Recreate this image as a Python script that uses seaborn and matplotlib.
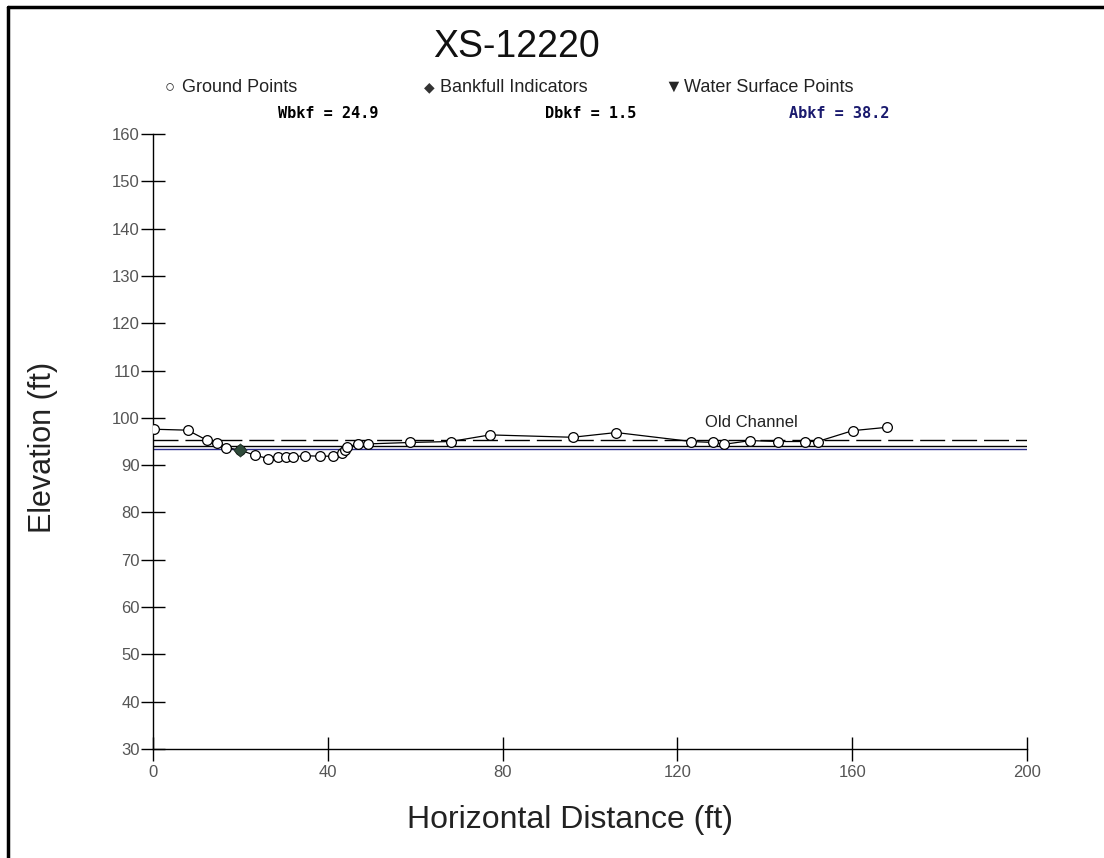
import numpy as np
import pandas as pd
import seaborn as sns
import matplotlib
matplotlib.use('Agg')
from matplotlib import pyplot as plt
from matplotlib.lines import Line2D

# ground survey points (station ft, elevation ft)
station = [0.2, 7.9, 12.3, 14.7, 16.8, 19.9, 23.3, 26.4, 28.7, 30.4, 32.1, 34.8,
           38.2, 41.1, 43.2, 43.9, 44.5, 47.0, 49.3, 58.8, 68.1, 77.1, 96.0,
           106.0, 123.2, 128.2, 130.6, 136.7, 143.1, 149.1, 152.1, 160.1, 167.9]
elevation = [97.6, 97.4, 95.3, 94.6, 93.7, 93.2, 92.1, 91.4, 91.7, 91.8, 91.8, 92.0,
             91.9, 91.9, 92.5, 93.2, 93.9, 94.5, 94.5, 94.8, 95.0, 96.4, 95.9,
             96.9, 95.0, 94.8, 94.4, 95.2, 95.0, 95.0, 95.0, 97.3, 98.0]

# bankfull indicator
bkf_station = [19.9]
bkf_elev = [93.2]

# horizontal reference lines
old_channel_elev = 95.3
water_elev = 94.0
bankfull_elev = 93.5

stats = ['Wbkf = 24.9', 'Dbkf = 1.5', 'Abkf = 38.2']

df = pd.DataFrame({'station': station, 'elevation': elevation})

sns.set_style('white')
plt.rcParams['font.family'] = ['Liberation Sans', 'DejaVu Sans']

fig = plt.figure(figsize=(11.04, 8.58), dpi=100)
ax = fig.add_axes([0.1386, 0.127, 0.7917, 0.7168])

ax.axhline(old_channel_elev, color='black', lw=1.0, dashes=(18, 5), zorder=1)
ax.axhline(water_elev, color='black', lw=1.0, zorder=1)
ax.axhline(bankfull_elev, color='#2b2b8a', lw=1.0, zorder=1)

sns.lineplot(data=df, x='station', y='elevation', estimator=None, sort=False,
             color='black', lw=0.9, marker='o', markersize=7,
             markerfacecolor='white', markeredgecolor='black',
             markeredgewidth=0.9, ax=ax, zorder=3)
sns.scatterplot(x=bkf_station, y=bkf_elev, marker='D', s=45, color='#2e4a3a',
                edgecolor='#1e2e24', ax=ax, zorder=4)

ax.text(137, 97.5, 'Old Channel', fontsize=12, ha='center', va='bottom', color='#222222')

ax.set_xlim(0, 200)
ax.set_ylim(30, 160)
ax.set_xticks(np.arange(0, 201, 40))
ax.set_yticks(np.arange(30, 161, 10))
ax.tick_params(direction='inout', length=17, width=1, colors='black',
               labelcolor='#555555', labelsize=12, left=True, bottom=True)
ax.tick_params(axis='y', pad=1)
ax.tick_params(axis='x', pad=3)
for s in ['top', 'right']:
    ax.spines[s].set_visible(False)
for s in ['left', 'bottom']:
    ax.spines[s].set_color('black')
    ax.spines[s].set_linewidth(1.0)

ax.set_xlabel('Horizontal Distance (ft)', fontsize=23, color='#222222')
ax.set_ylabel('Elevation (ft)', fontsize=22, color='#222222')
ax.xaxis.set_label_coords(0.477, -0.115)
ax.xaxis.label.set_va('center')
ax.yaxis.set_label_coords(-0.126, 0.49)
ax.yaxis.label.set_va('center')

# title and header legend
fig.text(0.468, 0.945, 'XS-12220', fontsize=27, ha='center', va='center', color='#111111')
ly = 0.898
fig.text(0.154, ly, '○', fontsize=12, ha='center', va='center')
fig.text(0.165, ly, 'Ground Points', fontsize=13, ha='left', va='center', color='#222222')
fig.text(0.389, ly, '◆', fontsize=10, ha='center', va='center', color='#333333')
fig.text(0.399, ly, 'Bankfull Indicators', fontsize=13, ha='left', va='center', color='#222222')
fig.text(0.610, ly, '▼', fontsize=13, ha='center', va='center')
fig.text(0.620, ly, 'Water Surface Points', fontsize=13, ha='left', va='center', color='#222222')

sy = 0.868
stat_x = [0.297, 0.535, 0.760]
stat_c = ['black', 'black', '#1a1a6e']
for xx, txt, c in zip(stat_x, stats, stat_c):
    fig.text(xx, sy, txt, fontsize=11, ha='center', va='center',
             family='DejaVu Sans Mono', fontweight='bold', color=c)

# outer frame (top and left edges)
fig.add_artist(Line2D([0.007, 1.0], [0.9915, 0.9915], color='black', lw=2.5,
                      transform=fig.transFigure))
fig.add_artist(Line2D([0.0075, 0.0075], [0.0, 0.9915], color='black', lw=2.5,
                      transform=fig.transFigure))

fig.savefig('out.png', dpi=100)
